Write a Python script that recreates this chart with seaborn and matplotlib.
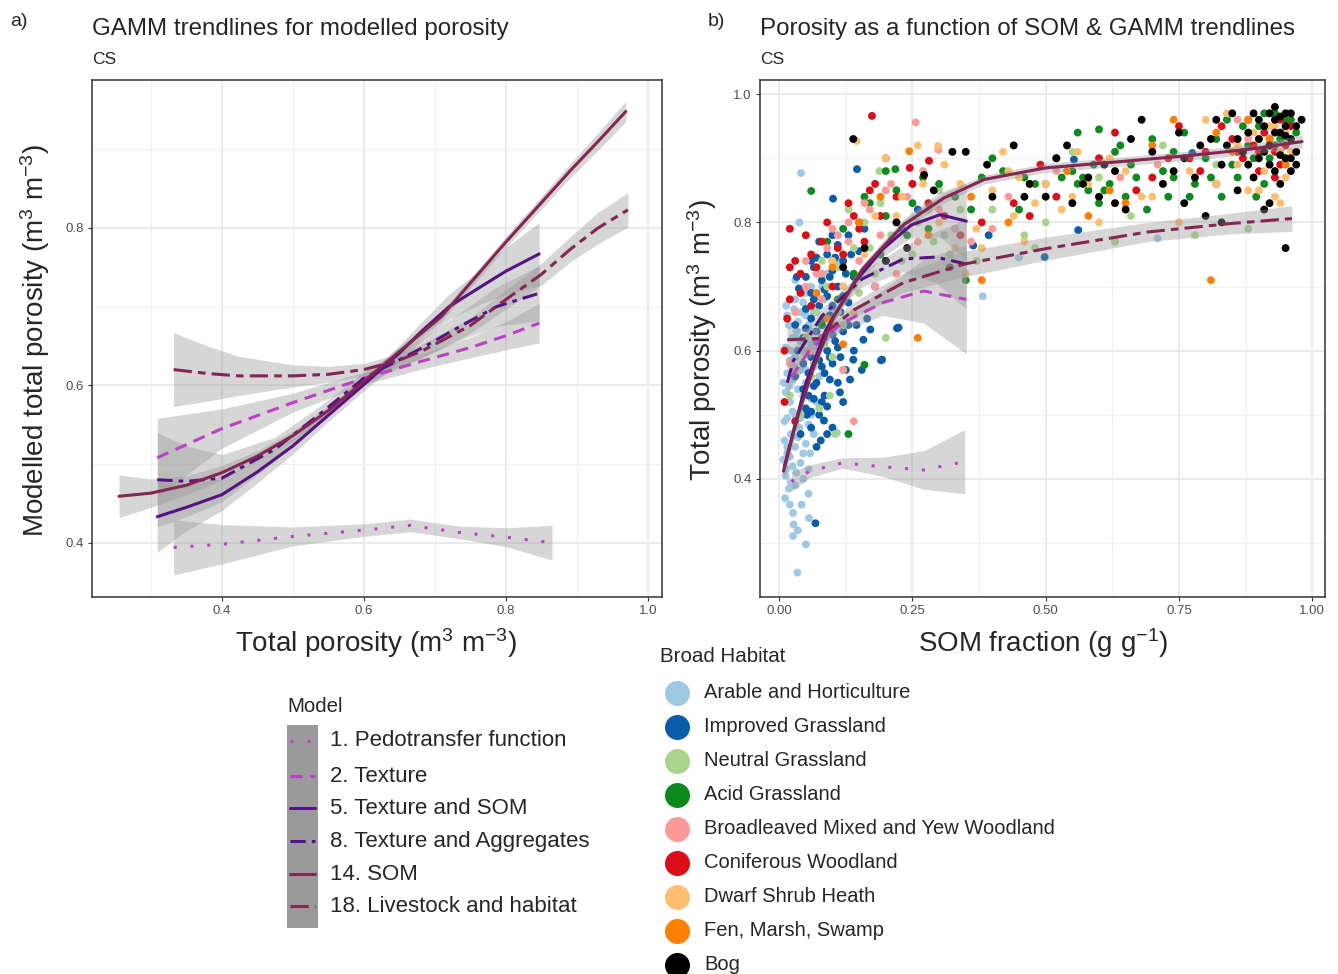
import matplotlib
matplotlib.use("Agg")
import matplotlib.pyplot as plt
import pandas as pd
import seaborn as sns
from matplotlib.lines import Line2D
from matplotlib.patches import Rectangle

# ---- panel a: GAMM trendlines, (x, fitted y, half width of ribbon) ----
a_pedo = [(0.332, 0.394, 0.035), (0.40, 0.398, 0.025), (0.50, 0.408, 0.012), (0.60, 0.416, 0.008),
          (0.665, 0.422, 0.008), (0.735, 0.413, 0.008), (0.80, 0.407, 0.012), (0.865, 0.400, 0.022)]
a_texture = [(0.309, 0.508, 0.05), (0.40, 0.545, 0.025), (0.50, 0.578, 0.012), (0.60, 0.609, 0.008),
             (0.683, 0.631, 0.010), (0.75, 0.648, 0.013), (0.80, 0.663, 0.018), (0.847, 0.679, 0.025)]
a_tex_som = [(0.309, 0.433, 0.045), (0.35, 0.445, 0.03), (0.40, 0.461, 0.02), (0.45, 0.490, 0.014),
             (0.50, 0.523, 0.010), (0.55, 0.562, 0.008), (0.60, 0.601, 0.008), (0.65, 0.641, 0.010),
             (0.683, 0.670, 0.012), (0.72, 0.700, 0.016), (0.766, 0.726, 0.022), (0.80, 0.745, 0.03),
             (0.847, 0.767, 0.04)]
a_tex_agg = [(0.309, 0.480, 0.06), (0.35, 0.478, 0.045), (0.40, 0.482, 0.03), (0.475, 0.519, 0.015),
             (0.54, 0.565, 0.010), (0.60, 0.609, 0.008), (0.683, 0.648, 0.012), (0.74, 0.677, 0.018),
             (0.787, 0.700, 0.025), (0.847, 0.717, 0.035)]
a_som = [(0.255, 0.459, 0.027), (0.30, 0.463, 0.018), (0.35, 0.473, 0.012), (0.40, 0.489, 0.009),
         (0.45, 0.510, 0.007), (0.50, 0.536, 0.006), (0.55, 0.568, 0.006), (0.60, 0.605, 0.006),
         (0.65, 0.643, 0.006), (0.709, 0.687, 0.006), (0.75, 0.730, 0.006), (0.80, 0.782, 0.007),
         (0.85, 0.832, 0.008), (0.891, 0.873, 0.009), (0.93, 0.910, 0.011), (0.969, 0.948, 0.013)]
a_livestock = [(0.332, 0.620, 0.047), (0.38, 0.615, 0.035), (0.423, 0.612, 0.025), (0.50, 0.612, 0.014),
               (0.55, 0.614, 0.010), (0.60, 0.620, 0.008), (0.65, 0.632, 0.008), (0.683, 0.644, 0.009),
               (0.75, 0.676, 0.010), (0.80, 0.709, 0.012), (0.85, 0.741, 0.014), (0.891, 0.773, 0.016),
               (0.93, 0.800, 0.020), (0.972, 0.823, 0.022)]

# ---- panel b: GAMM trendlines over SOM fraction ----
b_pedo = [(0.023, 0.396, 0.015), (0.057, 0.412, 0.010), (0.118, 0.425, 0.008), (0.195, 0.419, 0.015),
          (0.271, 0.414, 0.030), (0.348, 0.427, 0.050)]
b_texture = [(0.023, 0.559, 0.020), (0.057, 0.601, 0.012), (0.118, 0.643, 0.012), (0.195, 0.675, 0.020),
             (0.271, 0.693, 0.050), (0.351, 0.680, 0.085)]
b_tex_som = [(0.010, 0.420, 0.020), (0.050, 0.549, 0.012), (0.088, 0.633, 0.010), (0.141, 0.706, 0.010),
             (0.195, 0.759, 0.012), (0.248, 0.796, 0.020), (0.302, 0.812, 0.035), (0.351, 0.802, 0.060)]
b_tex_agg = [(0.015, 0.550, 0.030), (0.027, 0.585, 0.020), (0.080, 0.654, 0.012), (0.156, 0.712, 0.012),
             (0.233, 0.743, 0.020), (0.294, 0.746, 0.040), (0.351, 0.735, 0.070)]
b_som = [(0.008, 0.412, 0.012), (0.034, 0.496, 0.008), (0.065, 0.575, 0.008), (0.103, 0.654, 0.008),
         (0.156, 0.727, 0.008), (0.233, 0.796, 0.008), (0.309, 0.838, 0.008), (0.385, 0.867, 0.007),
         (0.50, 0.885, 0.007), (0.615, 0.893, 0.007), (0.767, 0.904, 0.007), (0.882, 0.914, 0.008),
         (0.981, 0.926, 0.010)]
b_livestock = [(0.015, 0.617, 0.020), (0.073, 0.619, 0.015), (0.141, 0.664, 0.012), (0.233, 0.706, 0.015),
               (0.347, 0.735, 0.020), (0.50, 0.759, 0.018), (0.691, 0.785, 0.015), (0.844, 0.798, 0.016),
               (0.962, 0.806, 0.020)]

model_names = ["1. Pedotransfer function", "2. Texture", "5. Texture and SOM",
               "8. Texture and Aggregates", "14. SOM", "18. Livestock and habitat"]
model_colors = ["#BD3FC6", "#BD3FC6", "#561283", "#561283", "#852552", "#852552"]
model_styles = [(0, (1, 4.5)), (0, (4, 2.5)), "-", (0, (5, 2, 1.5, 2)), "-", (0, (6, 2, 2.5, 2))]

# ---- panel b: observed points per broad habitat (SOM fraction, total porosity) ----
arable = [(0.034, 0.254), (0.026, 0.311), (0.05, 0.298), (0.027, 0.329), (0.035, 0.32), (0.056, 0.339),
          (0.011, 0.37), (0.055, 0.377), (0.026, 0.347), (0.02, 0.36), (0.018, 0.385), (0.03, 0.39),
          (0.045, 0.40), (0.012, 0.405), (0.025, 0.42), (0.04, 0.425), (0.015, 0.44), (0.03, 0.45),
          (0.05, 0.455), (0.01, 0.46), (0.022, 0.47), (0.038, 0.48), (0.055, 0.485), (0.015, 0.495),
          (0.03, 0.50), (0.045, 0.51), (0.02, 0.52), (0.06, 0.525), (0.012, 0.535), (0.035, 0.54),
          (0.05, 0.55), (0.025, 0.555), (0.015, 0.565), (0.04, 0.57), (0.065, 0.575), (0.02, 0.585),
          (0.03, 0.59), (0.05, 0.60), (0.012, 0.605), (0.04, 0.615), (0.025, 0.62), (0.06, 0.63),
          (0.018, 0.64), (0.035, 0.645), (0.05, 0.655), (0.028, 0.665), (0.045, 0.675), (0.02, 0.68),
          (0.07, 0.685), (0.04, 0.69), (0.06, 0.70), (0.09, 0.72), (0.03, 0.71), (0.11, 0.74),
          (0.041, 0.877), (0.038, 0.80), (0.382, 0.685), (0.71, 0.775), (0.45, 0.745), (0.008, 0.43),
          (0.058, 0.44), (0.065, 0.47), (0.07, 0.52), (0.008, 0.55), (0.075, 0.56), (0.08, 0.61),
          (0.10, 0.66), (0.085, 0.68), (0.12, 0.70), (0.108, 0.472), (0.013, 0.415), (0.022, 0.395),
          (0.042, 0.36), (0.01, 0.49), (0.045, 0.53), (0.03, 0.62), (0.013, 0.67), (0.055, 0.415),
          (0.015, 0.45), (0.035, 0.465), (0.025, 0.505), (0.04, 0.495), (0.018, 0.545), (0.05, 0.57),
          (0.028, 0.575), (0.06, 0.61), (0.022, 0.60), (0.033, 0.63), (0.055, 0.64), (0.015, 0.655),
          (0.04, 0.66), (0.065, 0.66), (0.03, 0.68), (0.05, 0.69), (0.08, 0.70), (0.02, 0.435),
          (0.045, 0.44), (0.032, 0.41), (0.06, 0.50), (0.07, 0.60)]
improved = [(0.033, 0.715), (0.037, 0.697), (0.193, 0.586), (0.224, 0.636), (0.171, 0.633), (0.158, 0.617),
            (0.139, 0.586), (0.133, 0.555), (0.114, 0.535), (0.09, 0.513), (0.084, 0.491), (0.068, 0.331),
            (0.146, 0.883), (0.101, 0.837), (0.364, 0.764), (0.393, 0.78), (0.221, 0.635), (0.191, 0.585),
            (0.561, 0.788), (0.498, 0.746), (0.553, 0.898), (0.775, 0.908), (0.04, 0.47), (0.06, 0.48),
            (0.075, 0.50), (0.05, 0.51), (0.065, 0.525), (0.085, 0.53), (0.045, 0.54), (0.07, 0.55),
            (0.095, 0.555), (0.055, 0.565), (0.08, 0.575), (0.10, 0.58), (0.06, 0.59), (0.09, 0.60),
            (0.11, 0.605), (0.07, 0.615), (0.045, 0.62), (0.10, 0.625), (0.12, 0.63), (0.08, 0.64),
            (0.06, 0.65), (0.095, 0.655), (0.115, 0.66), (0.05, 0.665), (0.075, 0.67), (0.13, 0.675),
            (0.09, 0.685), (0.06, 0.69), (0.11, 0.70), (0.08, 0.71), (0.14, 0.715), (0.10, 0.725),
            (0.065, 0.73), (0.12, 0.74), (0.09, 0.75), (0.15, 0.755), (0.11, 0.765), (0.075, 0.77),
            (0.13, 0.78), (0.16, 0.79), (0.05, 0.715), (0.035, 0.60), (0.03, 0.56), (0.052, 0.50),
            (0.078, 0.46), (0.10, 0.48), (0.12, 0.52), (0.14, 0.60), (0.165, 0.65), (0.18, 0.70),
            (0.20, 0.74), (0.03, 0.64), (0.11, 0.55), (0.125, 0.57), (0.07, 0.45), (0.155, 0.57),
            (0.045, 0.58), (0.085, 0.62), (0.23, 0.79), (0.26, 0.82), (0.06, 0.74), (0.13, 0.64),
            (0.055, 0.53), (0.065, 0.545), (0.085, 0.565), (0.075, 0.585), (0.095, 0.59), (0.105, 0.615),
            (0.07, 0.63), (0.085, 0.65), (0.10, 0.67), (0.065, 0.68), (0.12, 0.685), (0.085, 0.695),
            (0.095, 0.715), (0.125, 0.72), (0.07, 0.745), (0.105, 0.745), (0.135, 0.75), (0.10, 0.78),
            (0.06, 0.505), (0.09, 0.47), (0.08, 0.52), (0.115, 0.59), (0.05, 0.635), (0.145, 0.64)]
neutral = [(0.188, 0.88), (0.02, 0.53), (0.03, 0.57), (0.05, 0.62), (0.07, 0.66), (0.09, 0.70),
           (0.11, 0.73), (0.14, 0.76), (0.16, 0.80), (0.19, 0.83), (0.21, 0.78), (0.23, 0.74),
           (0.26, 0.80), (0.29, 0.77), (0.32, 0.75), (0.34, 0.82), (0.37, 0.74), (0.25, 0.86),
           (0.30, 0.85), (0.13, 0.82), (0.06, 0.56), (0.10, 0.59), (0.075, 0.51), (0.12, 0.64),
           (0.105, 0.47), (0.15, 0.69), (0.18, 0.72), (0.12, 0.57), (0.045, 0.60), (0.40, 0.82),
           (0.46, 0.78), (0.50, 0.80), (0.55, 0.91), (0.60, 0.87), (0.66, 0.81), (0.72, 0.92),
           (0.78, 0.78), (0.82, 0.89), (0.88, 0.79), (0.92, 0.97), (0.95, 0.93), (0.63, 0.77),
           (0.48, 0.76), (0.08, 0.74), (0.20, 0.62), (0.095, 0.53), (0.04, 0.50), (0.065, 0.58),
           (0.085, 0.61), (0.11, 0.66), (0.14, 0.70), (0.17, 0.76), (0.22, 0.80), (0.25, 0.75),
           (0.28, 0.82), (0.31, 0.78)]
acid = [(0.06, 0.849), (0.218, 0.883), (0.09, 0.77), (0.12, 0.79), (0.15, 0.80), (0.17, 0.83),
        (0.20, 0.81), (0.22, 0.85), (0.25, 0.83), (0.27, 0.87), (0.30, 0.86), (0.33, 0.84),
        (0.36, 0.82), (0.28, 0.79), (0.24, 0.78), (0.19, 0.75), (0.14, 0.72), (0.11, 0.68),
        (0.08, 0.64), (0.13, 0.47), (0.35, 0.71), (0.16, 0.578), (0.50, 0.86), (0.52, 0.90),
        (0.55, 0.88), (0.57, 0.87), (0.58, 0.85), (0.60, 0.83), (0.62, 0.86), (0.56, 0.94),
        (0.60, 0.945), (0.64, 0.92), (0.66, 0.89), (0.70, 0.93), (0.72, 0.88), (0.74, 0.91),
        (0.76, 0.94), (0.78, 0.86), (0.80, 0.90), (0.82, 0.93), (0.84, 0.96), (0.86, 0.87),
        (0.88, 0.92), (0.90, 0.95), (0.92, 0.90), (0.94, 0.93), (0.96, 0.96), (0.91, 0.86),
        (0.77, 0.84), (0.69, 0.82), (0.83, 0.84), (0.45, 0.82), (0.42, 0.88), (0.48, 0.86),
        (0.40, 0.90), (0.38, 0.87), (0.46, 0.87), (0.74, 0.87), (0.85, 0.89), (0.93, 0.97),
        (0.95, 0.90), (0.97, 0.94), (0.53, 0.87), (0.61, 0.85), (0.65, 0.84), (0.895, 0.84),
        (0.91, 0.97), (0.93, 0.92), (0.95, 0.96), (0.89, 0.90), (0.87, 0.95), (0.81, 0.87),
        (0.73, 0.84), (0.67, 0.87), (0.59, 0.89), (0.56, 0.86), (0.63, 0.91), (0.20, 0.88),
        (0.16, 0.84), (0.10, 0.74)]
broadleaved = [(0.256, 0.956), (0.299, 0.913), (0.03, 0.66), (0.05, 0.70), (0.07, 0.72), (0.09, 0.76),
               (0.11, 0.78), (0.13, 0.80), (0.15, 0.74), (0.17, 0.82), (0.19, 0.78), (0.21, 0.86),
               (0.24, 0.84), (0.27, 0.88), (0.30, 0.82), (0.33, 0.79), (0.14, 0.49), (0.12, 0.57),
               (0.06, 0.60), (0.10, 0.64), (0.02, 0.58), (0.08, 0.68), (0.36, 0.77), (0.40, 0.79),
               (0.43, 0.84), (0.52, 0.88), (0.64, 0.87), (0.71, 0.89), (0.88, 0.93), (0.92, 0.95),
               (0.94, 0.91), (0.86, 0.96), (0.22, 0.72), (0.26, 0.77), (0.18, 0.70), (0.05, 0.74),
               (0.08, 0.72), (0.10, 0.79), (0.13, 0.77), (0.16, 0.83), (0.20, 0.85), (0.92, 0.92)]
coniferous = [(0.174, 0.966), (0.245, 0.885), (0.281, 0.896), (0.02, 0.79), (0.01, 0.52), (0.03, 0.74),
              (0.05, 0.78), (0.07, 0.73), (0.09, 0.80), (0.11, 0.76), (0.13, 0.83), (0.15, 0.79),
              (0.17, 0.85), (0.19, 0.81), (0.22, 0.84), (0.25, 0.86), (0.28, 0.83), (0.31, 0.81),
              (0.34, 0.78), (0.38, 0.80), (0.02, 0.68), (0.04, 0.72), (0.06, 0.67), (0.10, 0.70),
              (0.20, 0.90), (0.44, 0.83), (0.47, 0.81), (0.49, 0.89), (0.52, 0.84), (0.60, 0.90),
              (0.63, 0.94), (0.67, 0.85), (0.70, 0.87), (0.75, 0.95), (0.77, 0.90), (0.79, 0.88),
              (0.80, 0.91), (0.82, 0.86), (0.85, 0.93), (0.87, 0.90), (0.89, 0.92), (0.90, 0.88),
              (0.91, 0.94), (0.93, 0.91), (0.94, 0.89), (0.95, 0.92), (0.96, 0.95), (0.73, 0.90),
              (0.88, 0.96), (0.01, 0.60), (0.015, 0.65), (0.08, 0.62), (0.03, 0.49), (0.92, 0.93),
              (0.94, 0.96), (0.90, 0.91), (0.93, 0.87), (0.86, 0.91), (0.83, 0.95), (0.12, 0.75),
              (0.08, 0.77), (0.06, 0.75), (0.14, 0.81), (0.16, 0.77), (0.18, 0.86), (0.04, 0.69),
              (0.02, 0.73)]
dwarf_shrub = [(0.145, 0.927), (0.298, 0.919), (0.20, 0.90), (0.23, 0.84), (0.26, 0.92), (0.30, 0.80),
               (0.33, 0.76), (0.35, 0.72), (0.37, 0.79), (0.40, 0.85), (0.42, 0.91), (0.44, 0.81),
               (0.46, 0.77), (0.48, 0.83), (0.50, 0.86), (0.53, 0.82), (0.56, 0.91), (0.58, 0.86),
               (0.60, 0.80), (0.62, 0.90), (0.65, 0.88), (0.68, 0.84), (0.72, 0.86), (0.75, 0.80),
               (0.77, 0.88), (0.80, 0.96), (0.82, 0.86), (0.84, 0.97), (0.86, 0.89), (0.88, 0.85),
               (0.90, 0.93), (0.91, 0.88), (0.92, 0.95), (0.93, 0.84), (0.94, 0.94), (0.95, 0.87),
               (0.96, 0.91), (0.94, 0.83), (0.955, 0.97), (0.12, 0.70), (0.16, 0.75), (0.18, 0.81),
               (0.10, 0.74), (0.14, 0.66), (0.27, 0.86), (0.31, 0.89), (0.43, 0.88), (0.38, 0.76),
               (0.60, 0.84), (0.90, 0.85), (0.93, 0.95), (0.95, 0.94), (0.92, 0.92), (0.96, 0.93),
               (0.94, 0.91), (0.89, 0.94), (0.86, 0.92), (0.70, 0.84), (0.55, 0.84), (0.45, 0.87),
               (0.34, 0.86), (0.22, 0.81)]
fen = [(0.244, 0.911), (0.38, 0.71), (0.26, 0.62), (0.15, 0.80), (0.19, 0.84), (0.28, 0.78),
       (0.36, 0.84), (0.47, 0.86), (0.54, 0.88), (0.58, 0.81), (0.62, 0.85), (0.70, 0.92),
       (0.74, 0.96), (0.81, 0.71), (0.82, 0.94), (0.85, 0.91), (0.88, 0.96), (0.92, 0.93),
       (0.95, 0.89), (0.10, 0.73), (0.07, 0.69), (0.43, 0.80), (0.65, 0.83), (0.12, 0.61), (0.09, 0.65)]
bog = [(0.139, 0.93), (0.325, 0.91), (0.272, 0.874), (0.22, 0.80), (0.24, 0.76), (0.29, 0.85),
       (0.35, 0.91), (0.39, 0.89), (0.44, 0.92), (0.47, 0.86), (0.50, 0.84), (0.52, 0.90),
       (0.55, 0.83), (0.57, 0.86), (0.60, 0.84), (0.63, 0.88), (0.65, 0.82), (0.68, 0.96),
       (0.70, 0.91), (0.72, 0.86), (0.75, 0.94), (0.76, 0.83), (0.78, 0.87), (0.80, 0.81),
       (0.81, 0.93), (0.83, 0.89), (0.85, 0.97), (0.86, 0.85), (0.87, 0.91), (0.88, 0.94),
       (0.89, 0.97), (0.90, 0.90), (0.91, 0.95), (0.92, 0.92), (0.93, 0.96), (0.93, 0.88),
       (0.94, 0.94), (0.95, 0.90), (0.95, 0.97), (0.96, 0.93), (0.96, 0.88), (0.97, 0.95),
       (0.98, 0.96), (0.94, 0.86), (0.92, 0.83), (0.91, 0.82), (0.95, 0.76), (0.63, 0.83),
       (0.76, 0.90), (0.88, 0.89), (0.90, 0.93), (0.93, 0.98), (0.97, 0.91), (0.84, 0.92),
       (0.12, 0.73), (0.16, 0.76), (0.20, 0.74), (0.32, 0.73), (0.83, 0.80), (0.58, 0.87),
       (0.46, 0.84), (0.40, 0.84), (0.90, 0.96), (0.92, 0.97), (0.94, 0.965), (0.96, 0.97),
       (0.95, 0.95), (0.93, 0.94), (0.91, 0.91), (0.94, 0.905), (0.96, 0.90), (0.97, 0.89),
       (0.95, 0.935), (0.92, 0.89), (0.89, 0.87), (0.86, 0.93), (0.82, 0.96), (0.79, 0.92),
       (0.74, 0.88), (0.66, 0.93), (0.61, 0.89), (0.54, 0.92)]

habitat_names = ["Arable and Horticulture", "Improved Grassland", "Neutral Grassland", "Acid Grassland",
                 "Broadleaved Mixed and Yew Woodland", "Coniferous Woodland", "Dwarf Shrub Heath",
                 "Fen, Marsh, Swamp", "Bog"]
habitat_colors = ["#9FC8E2", "#0A5CAB", "#A8D48C", "#0C8A1E", "#FB9A99", "#DD0D18", "#FDBF6F",
                  "#FF7F00", "#000000"]
habitat_points = [arable, improved, neutral, acid, broadleaved, coniferous, dwarf_shrub, fen, bog]

sns.set_theme(style="white")
plt.rcParams["font.family"] = ["Liberation Sans", "DejaVu Sans"]
plt.rcParams["mathtext.fontset"] = "custom"
plt.rcParams["mathtext.rm"] = "Liberation Sans"
plt.rcParams["mathtext.it"] = "Liberation Sans:italic"

fig = plt.figure(figsize=(13.38, 9.74), dpi=100)
ax_a = fig.add_axes([92 / 1338, 1 - 597 / 974, 570 / 1338, 517 / 974])
ax_b = fig.add_axes([760 / 1338, 1 - 597 / 974, 565 / 1338, 517 / 974])


def style_axes(ax, xmaj, xmin, ymaj, ymin, xfmt, yfmt):
    ax.set_xticks(xmaj)
    ax.set_xticks(xmin, minor=True)
    ax.set_yticks(ymaj)
    ax.set_yticks(ymin, minor=True)
    ax.set_xticklabels([xfmt.format(v) for v in xmaj])
    ax.set_yticklabels([yfmt.format(v) for v in ymaj])
    ax.grid(which="major", color="#E8E8E8", linewidth=1.3)
    ax.grid(which="minor", color="#F0F0F0", linewidth=0.8)
    ax.set_axisbelow(True)
    ax.tick_params(which="major", direction="out", length=3, width=0.8, color="#333333",
                   labelsize=9.5, labelcolor="#4D4D4D", pad=3, bottom=True, left=True)
    ax.tick_params(which="minor", length=0)
    for sp in ax.spines.values():
        sp.set_color("#333333")
        sp.set_linewidth(1.1)
    ax.set_xlabel("")
    ax.set_ylabel("")


def draw_trend(ax, rows, color, style):
    df = pd.DataFrame(rows, columns=["x", "y", "ci"])
    ax.fill_between(df["x"], df["y"] - df["ci"], df["y"] + df["ci"], color="#999999",
                    alpha=0.4, linewidth=0, zorder=3)
    sns.lineplot(data=df, x="x", y="y", ax=ax, color=color, linestyle=style, linewidth=2.2,
                 estimator=None, sort=False, zorder=4)


# panel a
for rows, col, ls in zip([a_pedo, a_texture, a_tex_som, a_tex_agg, a_som, a_livestock],
                         model_colors, model_styles):
    draw_trend(ax_a, rows, col, ls)
ax_a.set_xlim(0.217, 1.02)
ax_a.set_ylim(0.331, 0.988)
style_axes(ax_a, [0.4, 0.6, 0.8, 1.0], [0.3, 0.5, 0.7, 0.9], [0.4, 0.6, 0.8], [0.5, 0.7, 0.9],
           "{:.1f}", "{:.1f}")

# panel b
pts = pd.DataFrame(
    [(x, y, name) for name, p in zip(habitat_names, habitat_points) for x, y in p],
    columns=["som", "porosity", "habitat"])
sns.scatterplot(data=pts, x="som", y="porosity", hue="habitat", palette=dict(zip(habitat_names, habitat_colors)),
                s=32, edgecolor="none", linewidth=0, legend=False, ax=ax_b, zorder=2)
for rows, col, ls in zip([b_pedo, b_texture, b_tex_som, b_tex_agg, b_som, b_livestock],
                         model_colors, model_styles):
    draw_trend(ax_b, rows, col, ls)
ax_b.set_xlim(-0.036, 1.024)
ax_b.set_ylim(0.216, 1.022)
style_axes(ax_b, [0.0, 0.25, 0.5, 0.75, 1.0], [0.125, 0.375, 0.625, 0.875], [0.4, 0.6, 0.8, 1.0],
           [0.3, 0.5, 0.7, 0.9], "{:.2f}", "{:.1f}")

# titles and axis labels
fig.text(10 / 1338, 1 - 22 / 974, "a)", fontsize=14, va="center")
fig.text(708 / 1338, 1 - 22 / 974, "b)", fontsize=14, va="center")
fig.text(92 / 1338, 1 - 29 / 974, "GAMM trendlines for modelled porosity", fontsize=17.4, va="center")
fig.text(760 / 1338, 1 - 29 / 974, "Porosity as a function of SOM & GAMM trendlines", fontsize=17.4,
         va="center")
fig.text(92 / 1338, 1 - 59 / 974, "CS", fontsize=12.5, va="center")
fig.text(760 / 1338, 1 - 59 / 974, "CS", fontsize=12.5, va="center")
fig.text(376 / 1338, 1 - 643 / 974, r"Total porosity (m$^{3}$ m$^{-3}$)", fontsize=20,
         ha="center", va="center")
fig.text(1043 / 1338, 1 - 643 / 974, r"SOM fraction (g g$^{-1}$)", fontsize=20,
         ha="center", va="center")
fig.text(35 / 1338, 1 - 340 / 974, r"Modelled total porosity (m$^{3}$ m$^{-3}$)", fontsize=20,
         ha="center", va="center", rotation=90)
fig.text(702 / 1338, 1 - 340 / 974, r"Total porosity (m$^{3}$ m$^{-3}$)", fontsize=20,
         ha="center", va="center", rotation=90)

# Model legend
fig.text(287 / 1338, 1 - 706 / 974, "Model", fontsize=14.8, va="center")
fig.add_artist(Rectangle((287 / 1338, 1 - 928 / 974), 31 / 1338, 203 / 974,
                         transform=fig.transFigure, facecolor="#9A9A9A", edgecolor="none"))
model_y = [741, 776, 808, 841, 874, 906]
for name, col, ls, py in zip(model_names, model_colors, model_styles, model_y):
    fig.add_artist(Line2D([290 / 1338, 315 / 1338], [1 - py / 974, 1 - py / 974],
                          transform=fig.transFigure, color=col, linestyle=ls, linewidth=2.2))
    fig.text(330 / 1338, 1 - py / 974, name, fontsize=16, va="center")

# Broad habitat legend
fig.text(660 / 1338, 1 - 657 / 974, "Broad Habitat", fontsize=14.8, va="center")
hab_y = [693, 727, 761, 795, 829, 863, 897, 931, 965]
for name, col, py in zip(habitat_names, habitat_colors, hab_y):
    fig.add_artist(Line2D([677 / 1338], [1 - py / 974], transform=fig.transFigure, marker="o",
                          markersize=18, color=col, markeredgewidth=0, linestyle="none"))
    fig.text(704 / 1338, 1 - py / 974, name, fontsize=14.5, va="center")

fig.savefig("out.png", dpi=100)
